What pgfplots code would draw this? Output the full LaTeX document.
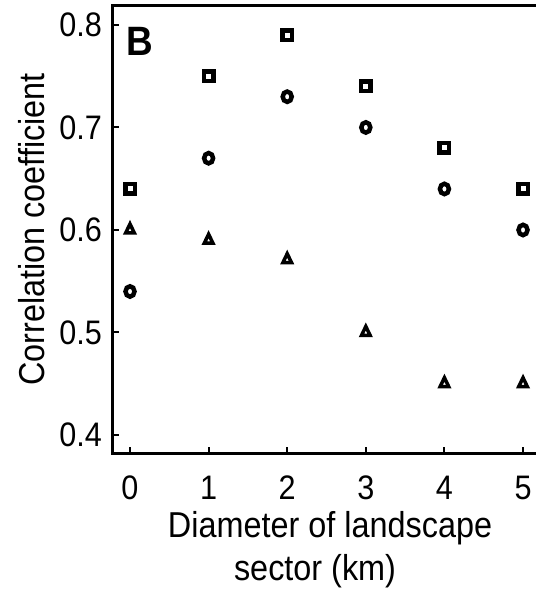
\documentclass[border=0pt]{standalone}
\usepackage{pgfplots}
\pgfplotsset{compat=1.18}
\usepackage{fontspec}
\setmainfont[FakeStretch=0.9]{Liberation Sans}
\begin{document}
\begin{tikzpicture}
\useasboundingbox (0,0) rectangle (536pt,590pt);
\begin{axis}[
    at={(113pt,137pt)}, anchor=south west,
    scale only axis,
    width=423pt, height=447pt,
    xmin=-0.2163, xmax=5.165,
    ymin=0.3824, ymax=0.8185,
    xtick={0,1,2,3,4,5},
    ytick={0.4,0.5,0.6,0.7,0.8},
    /pgf/number format/assume math mode=true,
    y tick label style={/pgf/number format/fixed,
      /pgf/number format/fixed zerofill, /pgf/number format/precision=1},
    tick pos=left, tick align=inside,
    major tick length=6pt,
    every tick/.style={black, line width=2pt},
    axis line style={draw=none},
    tick label style={font=\fontsize{34}{40}\selectfont},
    xticklabel style={anchor=base, yshift=-46pt, inner sep=0pt},
    yticklabel style={anchor=east, xshift=-11pt, inner sep=0pt},
    xlabel={Diameter of landscape},
    xlabel style={font=\fontsize{36}{43}\selectfont, anchor=base, inner sep=0pt,
      at={([yshift=-84pt]axis cs:2.545,0.3824)}},
    ylabel={Correlation coefficient},
    ylabel style={font=\fontsize{36}{43}\selectfont, anchor=base, inner sep=0pt,
      at={([xshift=-68pt]rel axis cs:0,0.5)}},
    clip=false,
  ]

  % frame: left, top and bottom only (right edge is cut off)
  \draw[line width=3pt, line join=miter]
    (rel axis cs:1,1) -- (rel axis cs:0,1) -- (rel axis cs:0,0) -- (rel axis cs:1,0);

  % squares
  \addplot[only marks, mark=square, mark size=4.75pt,
    mark options={black, line width=4.5pt}] coordinates {
    (0,0.64) (1,0.75) (2,0.79) (3,0.74) (4,0.68) (5,0.64)
  };

  % circles
  \addplot[only marks, mark=o, mark size=4.5pt,
    mark options={black, line width=4.5pt, yscale=1.15}] coordinates {
    (0,0.54) (1,0.67) (2,0.73) (3,0.70) (4,0.64) (5,0.60)
  };

  % triangles
  \addplot[only marks, mark=triangle, mark size=5pt,
    mark options={black, line width=3.5pt, yscale=1.2}] coordinates {
    (0,0.60) (1,0.59) (2,0.571) (3,0.50) (4,0.45) (5,0.45)
  };

  \node[font=\fontsize{41}{47}\selectfont\bfseries, inner sep=0pt]
    at (axis cs:0.127,0.784) {B};
  \node[font=\fontsize{36}{43}\selectfont, anchor=base, inner sep=0pt]
    at ([yshift=-127pt]axis cs:2.354,0.3824) {sector (km)};

\end{axis}
\end{tikzpicture}
\end{document}
